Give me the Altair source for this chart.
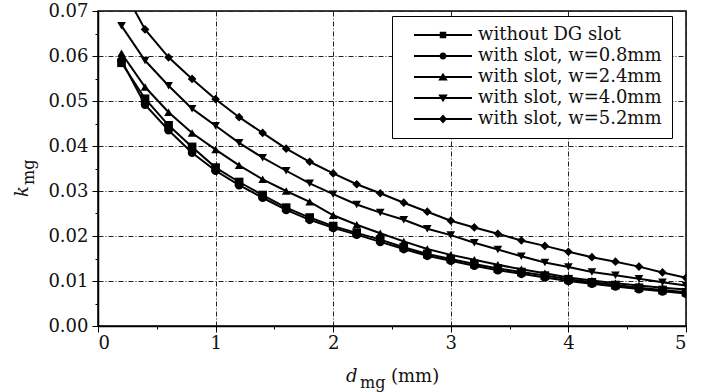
import altair as alt
import pandas as pd

d_mg = [0.2, 0.4, 0.6, 0.8, 1.0, 1.2, 1.4, 1.6, 1.8, 2.0, 2.2, 2.4, 2.6,
        2.8, 3.0, 3.2, 3.4, 3.6, 3.8, 4.0, 4.2, 4.4, 4.6, 4.8, 5.0]

series_names = ["without DG slot", "with slot, w=0.8mm", "with slot, w=2.4mm",
                "with slot, w=4.0mm", "with slot, w=5.2mm"]

k_no_slot = [0.0585, 0.0505, 0.0446, 0.0398, 0.0352, 0.0320, 0.0291, 0.0263, 0.0241,
             0.0222, 0.0207, 0.0192, 0.0175, 0.0160, 0.0149, 0.0138, 0.0128, 0.0120,
             0.0112, 0.0104, 0.0097, 0.0091, 0.0085, 0.0080, 0.0075]
k_w08 = [0.0590, 0.0492, 0.0435, 0.0385, 0.0345, 0.0313, 0.0285, 0.0258, 0.0236,
         0.0218, 0.0203, 0.0187, 0.0171, 0.0156, 0.0145, 0.0134, 0.0124, 0.0116,
         0.0108, 0.0100, 0.0094, 0.0088, 0.0082, 0.0077, 0.0072]
k_w24 = [0.0606, 0.0531, 0.0475, 0.0429, 0.0392, 0.0357, 0.0326, 0.0300, 0.0276,
         0.0246, 0.0225, 0.0206, 0.0188, 0.0171, 0.0158, 0.0147, 0.0136, 0.0126,
         0.0117, 0.0108, 0.0101, 0.0095, 0.0090, 0.0085, 0.0081]
k_w40 = [0.0667, 0.0590, 0.0534, 0.0483, 0.0445, 0.0407, 0.0374, 0.0345, 0.0317,
         0.0293, 0.0270, 0.0252, 0.0236, 0.0216, 0.0202, 0.0185, 0.0170, 0.0155,
         0.0141, 0.0131, 0.0120, 0.0113, 0.0105, 0.0097, 0.0090]
k_w52 = [0.0755, 0.0659, 0.0597, 0.0549, 0.0504, 0.0464, 0.0429, 0.0394, 0.0365,
         0.0339, 0.0315, 0.0295, 0.0274, 0.0254, 0.0234, 0.0219, 0.0205, 0.0190,
         0.0178, 0.0165, 0.0153, 0.0143, 0.0132, 0.0119, 0.0107]

x_ticks = [0, 0.5, 1, 1.5, 2, 2.5, 3, 3.5, 4, 4.5, 5]
y_ticks = [round(i * 0.005, 3) for i in range(15)]

all_series = [k_no_slot, k_w08, k_w24, k_w40, k_w52]
rows = []
for name, vals in zip(series_names, all_series):
    for xv, yv in zip(d_mg, vals):
        rows.append({"d": xv, "k": yv, "series": name})
df = pd.DataFrame(rows)

FONT = "DejaVu Serif"
GRID_DASH = [5, 2, 1, 2]

x_axis = alt.Axis(
    values=x_ticks, title=None,
    labelExpr="datum.value % 1 === 0 ? format(datum.value, 'd') : ''",
    grid=True, gridColor="#222", gridDash=GRID_DASH, gridWidth=1,
    gridOpacity={"condition": {"test": "datum.value % 1 === 0", "value": 1}, "value": 0},
    tickSize={"condition": {"test": "datum.value % 1 === 0", "value": 6}, "value": 3},
    tickColor="black", domainColor="black", domainWidth=1.5,
    labelFont=FONT, labelFontSize=18, labelColor="#111", labelPadding=2,
)
y_axis = alt.Axis(
    values=y_ticks, title=None,
    labelExpr="round(datum.value * 1000) % 10 === 0 ? format(datum.value, '.2f') : ''",
    grid=True, gridColor="#222", gridDash=GRID_DASH, gridWidth=1,
    gridOpacity={"condition": {"test": "round(datum.value * 1000) % 10 === 0", "value": 1}, "value": 0},
    tickSize={"condition": {"test": "round(datum.value * 1000) % 10 === 0", "value": 6}, "value": 3},
    tickColor="black", domainColor="black", domainWidth=1.5,
    labelFont=FONT, labelFontSize=18, labelColor="#111", labelPadding=4,
)

X = alt.X("d:Q", scale=alt.Scale(domain=[0, 5], nice=False, zero=False), axis=x_axis)
Y = alt.Y("k:Q", scale=alt.Scale(domain=[0, 0.07], nice=False), axis=y_axis)

base = alt.Chart(df)

lines = base.mark_line(color="black", strokeWidth=2, clip=True).encode(
    x=X, y=Y, detail="series:N"
)

points = base.mark_point(filled=True, color="black", size=75, opacity=1, clip=True).encode(
    x=X, y=Y,
    shape=alt.Shape("series:N",
                    scale=alt.Scale(domain=series_names,
                                    range=["square", "circle", "triangle-up",
                                           "triangle-down", "diamond"]),
                    legend=None),
)

line_part = "M-5.8,-0.18H-0.45V0.18H-5.8ZM0.45,-0.18H5.8V0.18H0.45Z"
legend_paths = [
    line_part + "M-0.65,-0.65H0.65V0.65H-0.65Z",
    line_part + "M0.7,0A0.7,0.7,0,1,1,-0.7,0A0.7,0.7,0,1,1,0.7,0Z",
    line_part + "M0,-0.85L0.95,0.7L-0.95,0.7Z",
    line_part + "M0,0.85L-0.95,-0.7L0.95,-0.7Z",
    line_part + "M0,-0.9L0.8,0L0,0.9L-0.8,0Z",
]

legend_layer = base.mark_point(filled=True, color="black", size=100, opacity=0).encode(
    x=X, y=Y,
    shape=alt.Shape("series:N",
                    scale=alt.Scale(domain=series_names, range=legend_paths),
                    legend=alt.Legend(
                        title=None, orient="none", legendX=294, legendY=5,
                        fillColor="white", strokeColor="black", padding=10,
                        symbolSize=100, symbolOffset=32, labelOffset=26,
                        symbolFillColor="black", symbolStrokeColor="black",
                        symbolOpacity=1,
                        labelFont=FONT, labelFontSize=18, labelColor="#111",
                        labelLimit=300, rowPadding=3,
                    )),
)


def label(txt, x, y, size=18, italic=False, angle=0):
    kw = dict(font=FONT, fontSize=size, align="left", baseline="alphabetic",
              color="#111", angle=angle)
    if italic:
        kw["fontStyle"] = "italic"
    return alt.Chart(pd.DataFrame({"t": [txt]})).mark_text(**kw).encode(
        x=alt.value(x), y=alt.value(y), text="t:N"
    )


titles = [
    label("d", 248, 371, italic=True),
    label("mg", 262, 377, size=16),
    label("(mm)", 293, 371),
    label("k", -70, 186, italic=True, angle=270),
    label("mg", -64, 174, size=16, angle=270),
]

chart = alt.layer(lines, points, legend_layer, *titles).resolve_scale(
    shape="independent"
).properties(
    width=588, height=315,
    autosize=alt.AutoSizeParams(type="none"),
    padding={"left": 98, "top": 11, "right": 16, "bottom": 66},
    background="white",
).configure_view(stroke="black", strokeWidth=1.5)

chart.save("out.html", embed_options={"renderer": "svg", "actions": False})
